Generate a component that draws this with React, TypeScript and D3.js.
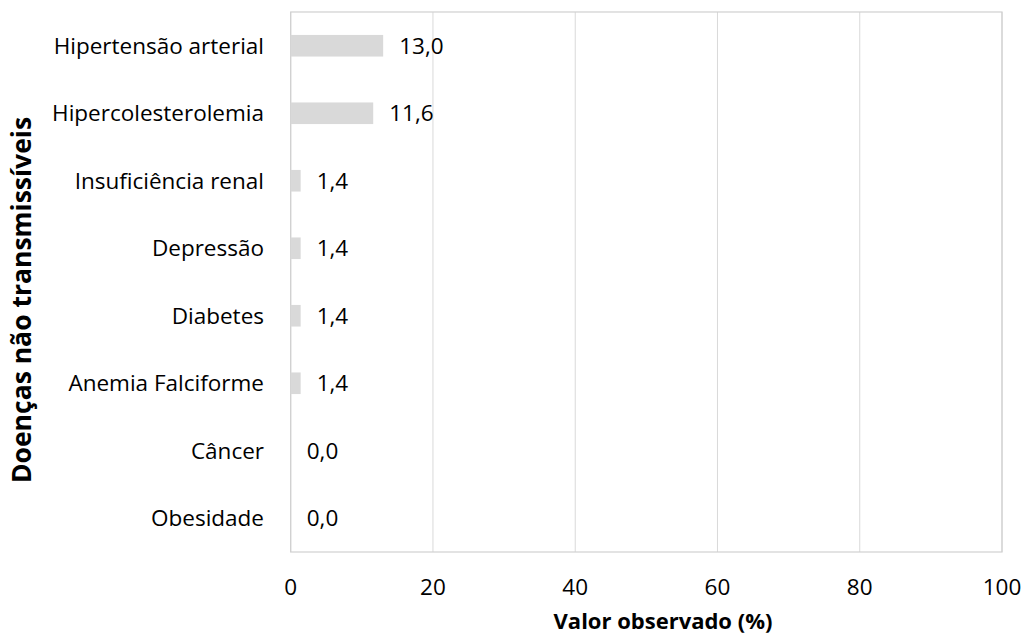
import React from "react";
import * as d3 from "d3";

const categories = [
  "Hipertensão arterial",
  "Hipercolesterolemia",
  "Insuficiência renal",
  "Depressão",
  "Diabetes",
  "Anemia Falciforme",
  "Câncer",
  "Obesidade",
];
const values = [13.0, 11.6, 1.4, 1.4, 1.4, 1.4, 0.0, 0.0];
const xTicks = [0, 20, 40, 60, 80, 100];
const xTitle = "Valor observado (%)";
const yTitle = "Doenças não transmissíveis";

export default function App() {
  const W = 1025, H = 635;
  const left = 290.7, right = 1002, top = 12, bottom = 552;
  const x = d3.scaleLinear().domain([0, 100]).range([left, right]);
  const y = d3.scaleBand<string>().domain(categories).range([top, bottom]).paddingInner(0.68).paddingOuter(0.34);
  const font = "'Open Sans', sans-serif";
  const fs = 22.5;
  const fmt = (v: number) => v.toFixed(1).replace(".", ",");
  return (
    <svg width={W} height={H} style={{ position: "absolute", left: 0, top: 0, background: "#fff" }} fontFamily={font}>
      {xTicks.map((t) => (
        <line key={t} x1={x(t)} x2={x(t)} y1={top} y2={bottom} stroke="#d9d9d9" strokeWidth={1} />
      ))}
      <rect x={left} y={top} width={right - left} height={bottom - top} fill="none" stroke="#d0d0d0" strokeWidth={1.2} />
      {categories.map((c, i) => (
        <g key={c}>
          <rect x={x(0)} y={y(c)!} width={x(values[i]) - x(0)} height={y.bandwidth()} fill="#d9d9d9" />
          <text x={x(values[i]) + 16} y={y(c)! + y.bandwidth() / 2} dy="0.35em" fontSize={fs} fill="#000">
            {fmt(values[i])}
          </text>
          <text x={264} y={y(c)! + y.bandwidth() / 2} dy="0.35em" fontSize={fs} textAnchor="end" fill="#000">
            {c}
          </text>
        </g>
      ))}
      {xTicks.map((t) => (
        <text key={t} x={x(t)} y={587} dy="0.35em" fontSize={fs} textAnchor="middle" fill="#000">
          {t}
        </text>
      ))}
      <text x={663} y={621} dy="0.35em" fontSize={22} fontWeight="bold" textAnchor="middle" fill="#000">
        {xTitle}
      </text>
      <text transform={`translate(22,300) rotate(-90)`} dy="0.35em" fontSize={26.5} fontWeight="bold" textAnchor="middle" fill="#000">
        {yTitle}
      </text>
    </svg>
  );
}
